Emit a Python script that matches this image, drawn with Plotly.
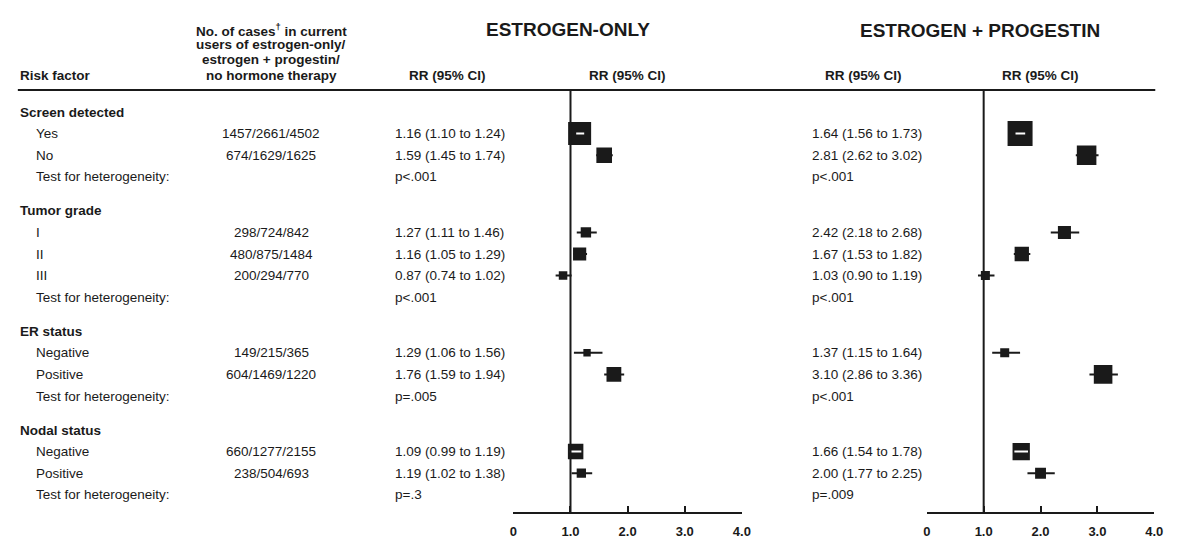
import plotly.graph_objects as go
import math

# ---------------- data ----------------
groups = ["Screen detected", "Tumor grade", "ER status", "Nodal status"]
group_levels = [["Yes", "No"], ["I", "II", "III"], ["Negative", "Positive"], ["Negative", "Positive"]]
cases_eo = [[1457, 674], [298, 480, 200], [149, 604], [660, 238]]
cases_ep = [[2661, 1629], [724, 875, 294], [215, 1469], [1277, 504]]
cases_none = [[4502, 1625], [842, 1484, 770], [365, 1220], [2155, 693]]

rr_eo = [[1.16, 1.59], [1.27, 1.16, 0.87], [1.29, 1.76], [1.09, 1.19]]
lo_eo = [[1.10, 1.45], [1.11, 1.05, 0.74], [1.06, 1.59], [0.99, 1.02]]
hi_eo = [[1.24, 1.74], [1.46, 1.29, 1.02], [1.56, 1.94], [1.19, 1.38]]
p_eo = ["p<.001", "p<.001", "p=.005", "p=.3"]

rr_ep = [[1.64, 2.81], [2.42, 1.67, 1.03], [1.37, 3.10], [1.66, 2.00]]
lo_ep = [[1.56, 2.62], [2.18, 1.53, 0.90], [1.15, 2.86], [1.54, 1.77]]
hi_ep = [[1.73, 3.02], [2.68, 1.82, 1.19], [1.64, 3.36], [1.78, 2.25]]
p_ep = ["p<.001", "p<.001", "p<.001", "p=.009"]

tick_vals = [0, 1, 2, 3, 4]
tick_text = ["0", "1.0", "2.0", "3.0", "4.0"]

# ---------------- layout constants ----------------
W, H = 1189, 558
FONT = "Liberation Sans, Arial, Helvetica, sans-serif"
INK = "#1a1a1a"
BODY = 13.5
AX1 = (515, 746)   # pixel extent of left forest axis
AX2 = (933, 1163)  # pixel extent of right forest axis
AXIS_Y = 513
RULE_Y = 90
ROW0, STEP, GAP = 112, 21.6, 12.4
MAX_BOX = [23, 25]
MIN_BOX = 9

def px(x):
    return x / W

# row positions (pixel-like units on a reversed y axis)
rows = []  # (kind, text, y, gi, li)
y = ROW0
for gi, g in enumerate(groups):
    rows.append(("group", g, y, gi, None))
    y += STEP
    for li, lev in enumerate(group_levels[gi]):
        rows.append(("level", lev, y, gi, li))
        y += STEP
    rows.append(("test", "Test for heterogeneity:", y, gi, None))
    y += STEP + GAP

fig = go.Figure()
ann = []

def add_ann(x, yv, text, size=BODY, anchor="left", bold=False):
    t = f"<b>{text}</b>" if bold else text
    ann.append(dict(x=px(x), y=yv, xref="paper", yref="y", text=t, showarrow=False,
                    xanchor=anchor, yanchor="middle", font=dict(size=size, family=FONT, color=INK)))

# headers
add_ann(570, 29, "ESTROGEN-ONLY", size=19, anchor="center", bold=True)
add_ann(987, 30, "ESTROGEN + PROGESTIN", size=19, anchor="center", bold=True)
for yy, t in zip([30, 44.5, 59.5, 75], ["No. of cases<sup>†</sup> in current", "users of estrogen-only/",
                                       "estrogen + progestin/", "no hormone therapy"]):
    add_ann(270, yy, t, anchor="center", bold=True)
add_ann(14, 75, "Risk factor", bold=True)
for cx in [448, (AX1[0] + AX1[1]) / 2, 869, (AX2[0] + AX2[1]) / 2]:
    add_ann(cx, 75, "RR (95% CI)", anchor="center", bold=True)

# table text
for kind, text, yy, gi, li in rows:
    if kind == "group":
        add_ann(14, yy, text, bold=True)
    elif kind == "level":
        add_ann(30, yy, text)
        add_ann(270, yy, f"{cases_eo[gi][li]}/{cases_ep[gi][li]}/{cases_none[gi][li]}", anchor="center")
        add_ann(393, yy, f"{rr_eo[gi][li]:.2f} ({lo_eo[gi][li]:.2f} to {hi_eo[gi][li]:.2f})")
        add_ann(815, yy, f"{rr_ep[gi][li]:.2f} ({lo_ep[gi][li]:.2f} to {hi_ep[gi][li]:.2f})")
    else:
        add_ann(30, yy, text)
        add_ann(393, yy, p_eo[gi])
        add_ann(815, yy, p_ep[gi])

# forest plots
panels = [("x", rr_eo, lo_eo, hi_eo, cases_eo, AX1, 0), ("x2", rr_ep, lo_ep, hi_ep, cases_ep, AX2, 1)]
for xa, rr, lo, hi, cases, ax, pi in panels:
    ppu = (ax[1] - ax[0]) / 4.0
    nmax = max(max(c) for c in cases)
    bx, by, sz = [], [], []
    blk_x, blk_y, wht_x, wht_y = [], [], [], []
    for kind, text, yy, gi, li in rows:
        if kind != "level":
            continue
        e, l, h = rr[gi][li], lo[gi][li], hi[gi][li]
        s = max(MIN_BOX if pi else 7, MAX_BOX[pi] * math.sqrt(cases[gi][li] / nmax))
        bx.append(e); by.append(yy); sz.append(s)
        half = s / 2 / ppu
        if (e - l) < half and (h - e) < half:
            wht_x += [l, h, None]; wht_y += [yy, yy, None]
        else:
            blk_x += [l, h, None]; blk_y += [yy, yy, None]
    fig.add_trace(go.Scatter(x=blk_x, y=blk_y, xaxis=xa, yaxis="y", mode="lines",
                             line=dict(color=INK, width=2), hoverinfo="skip", showlegend=False))
    fig.add_trace(go.Scatter(x=bx, y=by, xaxis=xa, yaxis="y", mode="markers",
                             marker=dict(symbol="square", size=sz, color=INK, opacity=1, line=dict(width=0)),
                             showlegend=False))
    fig.add_trace(go.Scatter(x=wht_x, y=wht_y, xaxis=xa, yaxis="y", mode="lines",
                             line=dict(color="white", width=2), hoverinfo="skip", showlegend=False))

shapes = [
    dict(type="line", xref="paper", yref="y", x0=px(14), x1=px(1164), y0=RULE_Y, y1=RULE_Y,
         line=dict(color=INK, width=2)),
    dict(type="line", xref="x", yref="y", x0=1, x1=1, y0=RULE_Y, y1=AXIS_Y,
         line=dict(color=INK, width=2)),
    dict(type="line", xref="x2", yref="y", x0=1, x1=1, y0=RULE_Y, y1=AXIS_Y,
         line=dict(color=INK, width=2)),
]

axis_common = dict(range=[0, 4], tickvals=tick_vals, ticktext=tick_text, showgrid=False, zeroline=False,
                   showline=True, linecolor=INK, linewidth=2, ticks="inside", ticklen=6, tickwidth=2,
                   tickcolor=INK, anchor="free", position=(H - AXIS_Y) / H, side="bottom",
                   ticklabelstandoff=6,
                   tickfont=dict(size=13, family=FONT, color=INK, weight="bold"), fixedrange=True)

fig.update_layout(
    width=W, height=H, margin=dict(l=0, r=0, t=0, b=0),
    paper_bgcolor="white", plot_bgcolor="white",
    xaxis=dict(domain=[px(AX1[0]), px(AX1[1])], **axis_common),
    xaxis2=dict(domain=[px(AX2[0]), px(AX2[1])], **axis_common),
    yaxis=dict(domain=[0, 1], range=[H, 0], visible=False, fixedrange=True),
    annotations=ann, shapes=shapes, showlegend=False,
)

fig.write_html(
    "out.html",
    config={"displayModeBar": False, "staticPlot": True},
    post_script=("document.documentElement.style.overflow='hidden';"
                 "document.body.style.margin='0';document.body.style.overflow='hidden';"),
)
